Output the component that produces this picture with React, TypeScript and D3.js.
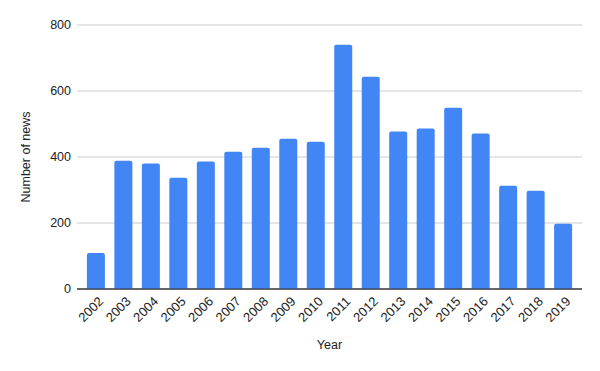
import * as d3 from 'd3';

const years = ['2002', '2003', '2004', '2005', '2006', '2007', '2008', '2009', '2010',
    '2011', '2012', '2013', '2014', '2015', '2016', '2017', '2018', '2019'];
const newsCount = [109, 389, 380, 337, 386, 416, 428, 455, 446,
    740, 643, 477, 486, 549, 471, 313, 298, 198];
const yTicks = [0, 200, 400, 600, 800];

const width = 600;
const height = 371;
const margin = { left: 77, right: 18, top: 25, bottom: 82 };

export default function App() {
    const x = d3.scaleBand<string>()
        .domain(years)
        .range([margin.left, width - margin.right])
        .paddingInner(0.345)
        .paddingOuter(0.36);

    const y = d3.scaleLinear()
        .domain([0, 800])
        .range([height - margin.bottom, margin.top]);

    const font = 'Arial, "Liberation Sans", sans-serif';

    return (
        <svg width={width} height={height} style={{ position: 'absolute', left: 0, top: 0, background: '#fff' }}>
            {/* 网格线 */}
            {yTicks.map(t => (
                <g key={t}>
                    <line x1={margin.left} x2={width - margin.right} y1={y(t)} y2={y(t)}
                        stroke={t === 0 ? '#333' : '#ccc'} strokeWidth={1} />
                    <text x={margin.left - 6} y={y(t)} dy="0.35em" textAnchor="end"
                        fontFamily={font} fontSize={12.5} fill="#222">{t}</text>
                </g>
            ))}
            {/* 柱子 */}
            {years.map((yr, i) => {
                const x0 = x(yr)!;
                const w = x.bandwidth();
                const y0 = y(newsCount[i]);
                const y1 = y(0);
                const r = 2;
                const d = `M${x0},${y1}V${y0 + r}Q${x0},${y0} ${x0 + r},${y0}H${x0 + w - r}Q${x0 + w},${y0} ${x0 + w},${y0 + r}V${y1}Z`;
                return <path key={yr} d={d} fill="#4285F4" />;
            })}
            <line x1={margin.left} x2={width - margin.right} y1={y(0)} y2={y(0)} stroke="#333" strokeWidth={1} />
            {/* x轴标签 */}
            {years.map(yr => {
                const cx = x(yr)! + x.bandwidth() / 2 + 5;
                const cy = y(0) + 10;
                return (
                    <text key={yr} x={cx} y={cy} textAnchor="end" dy="0.35em"
                        transform={`rotate(-45,${cx},${cy})`}
                        fontFamily={font} fontSize={13} fill="#222">{yr}</text>
                );
            })}
            <text x={(margin.left + width - margin.right) / 2} y={349} textAnchor="middle"
                fontFamily={font} fontSize={12.5} fill="#222">Year</text>
            <text transform={`translate(30,${(margin.top + height - margin.bottom) / 2}) rotate(-90)`}
                textAnchor="middle" fontFamily={font} fontSize={12.5} fill="#222">Number of news</text>
        </svg>
    );
}
